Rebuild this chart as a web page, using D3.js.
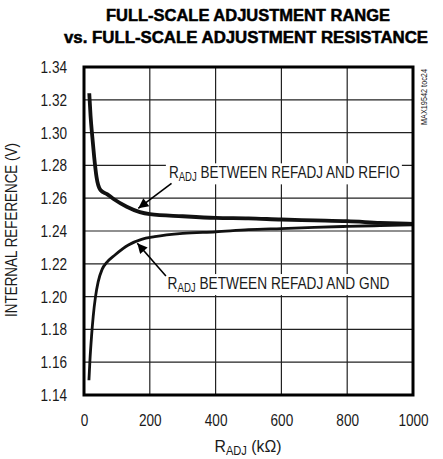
<!DOCTYPE html>
<html><head><meta charset="utf-8">
<script src="https://cdn.jsdelivr.net/npm/d3@7"></script>
<style>body{margin:0;background:#fff}svg{display:block}</style>
</head><body>
<script>
// ---- data ----
const xTicks = [0, 200, 400, 600, 800, 1000];
const yTicks = [1.14, 1.16, 1.18, 1.20, 1.22, 1.24, 1.26, 1.28, 1.30, 1.32, 1.34];
const refioR = [16, 20, 25, 31, 38, 50, 70, 90, 130, 170, 200, 300, 400, 500, 600, 700, 800, 900, 1000];
const refioV = [1.324, 1.310, 1.298, 1.285, 1.273, 1.265, 1.2625, 1.2595, 1.2548, 1.2515, 1.2503, 1.249, 1.248, 1.2477, 1.247, 1.2465, 1.246, 1.245, 1.2443];
const gndR = [15, 18, 23, 28, 35, 43, 55, 70, 94, 135, 175, 215, 300, 400, 500, 600, 700, 800, 900, 1000];
const gndV = [1.149, 1.161, 1.176, 1.188, 1.200, 1.209, 1.2166, 1.221, 1.2254, 1.2315, 1.2349, 1.2365, 1.2385, 1.2395, 1.2408, 1.2415, 1.2422, 1.2428, 1.2433, 1.2437];
const titleLines = ["FULL-SCALE ADJUSTMENT RANGE", "vs. FULL-SCALE ADJUSTMENT RESISTANCE"];
const annotations = [
  {label: " BETWEEN REFADJ AND REFIO", tx: 258, ty: 1.2721, w: 231, x1: 266, y1: 1.2690, x2: 165, y2: 1.2538},
  {label: " BETWEEN REFADJ AND GND", tx: 254, ty: 1.2046, w: 222, x1: 249, y1: 1.2126, x2: 162, y2: 1.2325}
];

const W = 443, H = 459;
const FONT = "'Liberation Sans',Arial,sans-serif";
const SX = 0.8;
const svg = d3.select("body").append("svg").attr("width", W).attr("height", H);
const x = d3.scaleLinear().domain([0, 1000]).range([84, 413]);
const y = d3.scaleLinear().domain([1.14, 1.34]).range([395, 67]);

// narrow text helper: text placed in a group scaled horizontally
function narrow(px, py, size, opts = {}) {
  const gg = svg.append("g").attr("transform", `translate(${px},${py})` + (opts.rot ? ` rotate(${opts.rot})` : ""));
  const inner = gg.append("g");
  const t = inner.append("text").attr("x", 0).attr("y", 0)
    .attr("font-family", FONT).attr("font-size", size).attr("fill", "#1a1a1a")
    .attr("text-anchor", opts.anchor || "start");
  return {g: gg, inner, t, fit(width) {
    const w = t.node().getBBox().width;
    inner.attr("transform", `scale(${width / w},1)`);
  }, scale(s) { inner.attr("transform", `scale(${s},1)`); }};
}

// title
svg.append("text").attr("x", 248).attr("y", 20.7).attr("text-anchor", "middle")
  .attr("font-family", FONT).attr("font-weight", "bold").attr("font-size", 16)
  .attr("stroke", "#000").attr("stroke-width", 0.5)
  .attr("textLength", 284).attr("lengthAdjust", "spacingAndGlyphs").text(titleLines[0]);
svg.append("text").attr("x", 246).attr("y", 43.3).attr("text-anchor", "middle")
  .attr("font-family", FONT).attr("font-weight", "bold").attr("font-size", 16)
  .attr("stroke", "#000").attr("stroke-width", 0.5)
  .attr("textLength", 364).attr("lengthAdjust", "spacingAndGlyphs").text(titleLines[1]);

// grid
const g = svg.append("g");
g.selectAll(".vg").data(xTicks.slice(1, -1)).join("line")
  .attr("x1", d => x(d)).attr("x2", d => x(d)).attr("y1", y(1.34)).attr("y2", y(1.14))
  .attr("stroke", "#222").attr("stroke-width", 1.2);
g.selectAll(".hg").data(yTicks.slice(1, -1)).join("line")
  .attr("y1", d => y(d)).attr("y2", d => y(d)).attr("x1", x(0)).attr("x2", x(1000))
  .attr("stroke", "#222").attr("stroke-width", 1.2);

// tick labels via axes, narrowed
const xa = svg.append("g").attr("transform", `translate(0,${y(1.14)})`)
  .call(d3.axisBottom(x).tickValues(xTicks).tickSize(0).tickPadding(19).tickFormat(d3.format("d")));
xa.select(".domain").remove();
xa.selectAll("text").attr("font-family", FONT).attr("font-size", 17).attr("fill", "#1a1a1a")
  .attr("transform", `scale(${SX},1)`);
const ya = svg.append("g").attr("transform", `translate(${x(0)},0)`)
  .call(d3.axisLeft(y).tickValues(yTicks).tickSize(0).tickFormat(d3.format(".2f")));
ya.select(".domain").remove();
ya.selectAll("text").attr("font-family", FONT).attr("font-size", 17).attr("fill", "#1a1a1a")
  .attr("x", -17 / SX).attr("transform", `scale(${SX},1)`);

// curves
const line = d3.line().x(d => x(d[0])).y(d => y(d[1])).curve(d3.curveMonotoneX);
svg.append("path").datum(refioR.map((r, i) => [r, refioV[i]])).attr("d", line)
  .attr("fill", "none").attr("stroke", "#111").attr("stroke-width", 3.8);
svg.append("path").datum(gndR.map((r, i) => [r, gndV[i]])).attr("d", line)
  .attr("fill", "none").attr("stroke", "#111").attr("stroke-width", 2.8);

// annotations
svg.append("defs").append("marker").attr("id", "ah").attr("viewBox", "0 0 10 10")
  .attr("refX", 10).attr("refY", 5).attr("markerWidth", 15).attr("markerHeight", 10)
  .attr("markerUnits", "userSpaceOnUse").attr("orient", "auto")
  .append("path").attr("d", "M0,0 L10,5 L0,10 Z").attr("fill", "#000");
annotations.forEach(a => {
  const px = x(a.tx), py = y(a.ty);
  const n = narrow(px, py, 17);
  n.t.append("tspan").text("R");
  n.t.append("tspan").attr("font-size", 12).attr("dy", 3).text("ADJ");
  n.t.append("tspan").attr("dy", -3).text(a.label);
  n.fit(a.w);
  n.g.insert("rect", ":first-child").attr("x", -3).attr("y", -15).attr("width", a.w + 5)
    .attr("height", 21).attr("fill", "#fff");
  svg.append("line").attr("x1", x(a.x1)).attr("y1", y(a.y1)).attr("x2", x(a.x2)).attr("y2", y(a.y2))
    .attr("stroke", "#000").attr("stroke-width", 1.6).attr("marker-end", "url(#ah)");
});

// frame
svg.append("rect").attr("x", x(0)).attr("y", y(1.34)).attr("width", x(1000) - x(0))
  .attr("height", y(1.14) - y(1.34)).attr("fill", "none").attr("stroke", "#000").attr("stroke-width", 3);

// axis titles
const xl = narrow(248, 451.7, 17, {anchor: "middle"});
xl.t.append("tspan").text("R");
xl.t.append("tspan").attr("font-size", 12).attr("dy", 3).text("ADJ");
xl.t.append("tspan").attr("dy", -3).text(" (k\u03A9)");
xl.fit(67);
const yl = narrow(17, 230, 17, {anchor: "middle", rot: -90});
yl.t.text("INTERNAL REFERENCE (V)");
yl.fit(174);
const tc = narrow(427, 125, 9, {rot: -90});
tc.t.text("MAX19542 toc24");
tc.fit(56);
</script>
</body></html>
